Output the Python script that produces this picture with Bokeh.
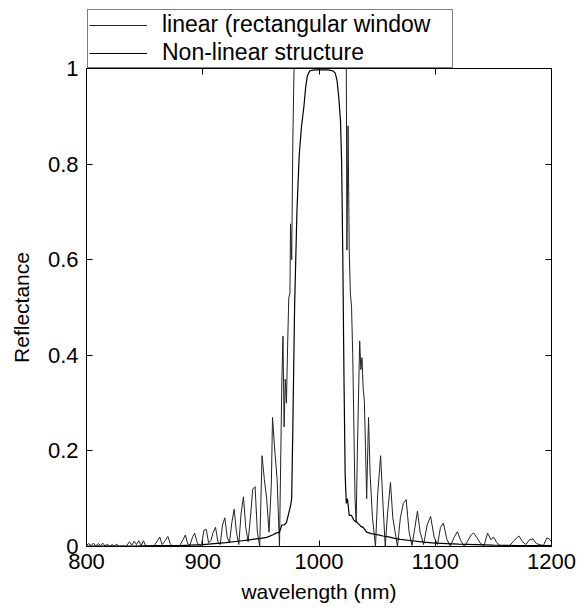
from bokeh.plotting import figure
from bokeh.layouts import column
from bokeh.models import Range1d, LinearAxis, FixedTicker, Legend, LegendItem, ColumnDataSource
from bokeh.embed import file_html
from bokeh.resources import INLINE

# ---- data ----
lin_wl = [800, 802, 804, 806, 808, 810, 812, 814, 816, 818, 820, 822, 824, 826, 828, 831, 834,
          837, 839, 841, 843, 845, 847, 849, 851, 854, 858, 861, 863, 865, 867, 870, 872, 874,
          877, 880, 883, 885, 887, 889, 891, 893, 895, 897, 899, 901, 903, 905, 907, 909, 911,
          913, 915, 917, 919, 921, 923, 925, 927, 929, 931, 933, 935, 937, 939, 941, 943, 945,
          947, 949, 951, 953, 955, 957, 959, 960, 962, 964, 966, 968, 969, 970, 971, 972, 973,
          974, 975, 975.5, 976.5, 977.5, 978.5, 980, 985, 990, 995, 1000, 1005, 1010, 1015,
          1020, 1023.5, 1024, 1025, 1026, 1027, 1028, 1029, 1030, 1031, 1032, 1033, 1035, 1036,
          1037, 1038, 1039, 1040, 1041, 1042.6, 1044, 1046, 1048.6, 1050.5, 1053, 1055, 1057,
          1059, 1061.5, 1063.5, 1065.5, 1067.5, 1070, 1072.5, 1075, 1077.5, 1080, 1082.5,
          1084.7, 1087, 1090, 1093, 1096, 1099, 1102, 1104.5, 1107, 1110, 1113, 1116, 1119,
          1122, 1125, 1128, 1131, 1133, 1136, 1139, 1142, 1145, 1148, 1150, 1153, 1156, 1160,
          1164, 1167, 1170, 1172, 1175, 1178, 1181, 1184, 1187, 1190, 1193, 1196, 1198, 1200]
lin_r = [0.003, 0.006, 0.002, 0.007, 0.001, 0.006, 0.002, 0.007, 0.001, 0.005, 0.000, 0.004,
         0.001, 0.005, 0.000, 0.001, 0.000, 0.010, 0.003, 0.011, 0.004, 0.012, 0.002, 0.012,
         0.001, 0.000, 0.001, 0.012, 0.020, 0.004, 0.010, 0.021, 0.006, 0.000, 0.002, 0.001,
         0.014, 0.024, 0.006, 0.003, 0.018, 0.028, 0.010, 0.000, 0.004, 0.034, 0.036, 0.008,
         0.012, 0.030, 0.040, 0.010, 0.004, 0.045, 0.060, 0.020, 0.008, 0.050, 0.078, 0.030,
         0.004, 0.070, 0.104, 0.040, 0.010, 0.060, 0.120, 0.125, 0.030, 0.000, 0.190, 0.140,
         0.100, 0.030, 0.130, 0.270, 0.200, 0.140, 0.000, 0.340, 0.440, 0.250, 0.350, 0.300,
         0.420, 0.520, 0.530, 0.675, 0.600, 0.850, 1.000, 1.000, 1.000, 1.000, 1.000, 1.000,
         1.000, 1.000, 1.000, 1.000, 1.000, 0.620, 0.880, 0.620, 0.530, 0.500, 0.404, 0.250,
         0.100, 0.050, 0.200, 0.430, 0.370, 0.395, 0.330, 0.305, 0.207, 0.100, 0.270, 0.150,
         0.060, 0.000, 0.110, 0.190, 0.090, 0.000, 0.070, 0.134, 0.060, 0.030, 0.000, 0.060,
         0.090, 0.098, 0.030, 0.002, 0.040, 0.074, 0.030, 0.004, 0.045, 0.063, 0.020, 0.004,
         0.040, 0.049, 0.015, 0.001, 0.018, 0.031, 0.012, 0.000, 0.012, 0.025, 0.028, 0.018,
         0.006, 0.002, 0.028, 0.014, 0.020, 0.008, 0.001, 0.000, 0.002, 0.010, 0.018, 0.022,
         0.010, 0.004, 0.014, 0.016, 0.006, 0.004, 0.002, 0.018, 0.016, 0.010]

nl_wl = [800, 820, 840, 860, 880, 900, 910, 920, 930, 940, 950, 955, 960, 963, 966, 968, 970,
         972, 974, 975.5, 976.5, 977.5, 979, 981, 983, 985, 987, 988.5, 990, 992, 996, 1000,
         1004, 1008, 1012, 1014, 1015.5, 1017, 1018.5, 1019.5, 1020.5, 1021.5, 1022.5, 1023.5,
         1024.5, 1026, 1028, 1030, 1033, 1036, 1038, 1041, 1045, 1050, 1055, 1060, 1065, 1070,
         1080, 1090, 1100, 1110, 1120, 1135, 1150, 1170, 1200]
nl_r = [0.001, 0.001, 0.001, 0.002, 0.002, 0.004, 0.006, 0.008, 0.011, 0.014, 0.017, 0.019,
        0.024, 0.028, 0.030, 0.045, 0.045, 0.050, 0.070, 0.085, 0.100, 0.250, 0.500, 0.700,
        0.820, 0.880, 0.920, 0.960, 0.985, 0.995, 0.997, 0.997, 0.997, 0.997, 0.995, 0.990,
        0.975, 0.940, 0.890, 0.800, 0.600, 0.350, 0.150, 0.090, 0.100, 0.065, 0.065, 0.055,
        0.050, 0.042, 0.040, 0.030, 0.027, 0.025, 0.022, 0.020, 0.017, 0.015, 0.012, 0.009,
        0.007, 0.006, 0.005, 0.004, 0.003, 0.002, 0.002]

x_ticks = [800, 900, 1000, 1100, 1200]
y_ticks = [0, 0.2, 0.4, 0.6, 0.8, 1]
y_tick_labels = ["0", "0.2", "0.4", "0.6", "0.8", "1"]
series_names = ["linear (rectangular window", "Non-linear structure"]

FONT = "Liberation Sans"

src_lin = ColumnDataSource(dict(x=lin_wl, y=lin_r))
src_nl = ColumnDataSource(dict(x=nl_wl, y=nl_r))

# ---------- main plot (overlaps the legend strip by 14px, transparent border) ----------
p = figure(width=585, height=558,
           x_range=Range1d(800, 1200), y_range=Range1d(0, 1),
           output_backend="svg", toolbar_location=None,
           min_border_left=86, min_border_right=34, min_border_top=14, min_border_bottom=66,
           background_fill_color="white", border_fill_alpha=0,
           margin=(-14, 0, 0, 0))
p.xgrid.visible = False
p.ygrid.visible = False
p.outline_line_color = "black"
p.outline_line_width = 1

p.line("x", "y", source=src_lin, line_color="#222222", line_width=1)
p.line("x", "y", source=src_nl, line_color="black", line_width=1.2)

for ax in [p.xaxis[0], p.yaxis[0]]:
    ax.axis_line_color = "black"
    ax.major_tick_line_color = "black"
    ax.major_tick_in = 6
    ax.major_tick_out = 0
    ax.minor_tick_line_color = None
    ax.major_label_text_font = FONT
    ax.major_label_text_color = "black"
    ax.major_label_text_font_size = "22px"
    ax.axis_label_text_font = FONT
    ax.axis_label_text_font_style = "normal"
    ax.axis_label_text_color = "black"
    ax.axis_label_text_font_size = "21px"

p.xaxis.ticker = FixedTicker(ticks=x_ticks)
p.yaxis.ticker = FixedTicker(ticks=y_ticks)
p.yaxis.major_label_overrides = dict(zip(y_ticks, y_tick_labels))
p.xaxis.axis_label = "wavelength (nm)"
p.yaxis.axis_label = "Reflectance"
p.xaxis.major_label_standoff = 7
p.yaxis.major_label_standoff = 8
p.xaxis.axis_label_standoff = 8
p.yaxis.axis_label_standoff = 12

for ticks, side in [(y_ticks, "right"), (x_ticks, "above")]:
    ax = LinearAxis(ticker=FixedTicker(ticks=ticks))
    ax.axis_line_color = "black"
    ax.major_tick_line_color = "black"
    ax.major_tick_in = 6
    ax.major_tick_out = 0
    ax.minor_tick_line_color = None
    ax.major_label_overrides = {t: "" for t in ticks}
    ax.major_label_text_font_size = "1px"
    ax.major_label_standoff = 0
    p.add_layout(ax, side)

# ---------- legend strip above the axes ----------
lg = figure(width=585, height=68, x_range=Range1d(0, 1), y_range=Range1d(0, 1),
            output_backend="svg", toolbar_location=None,
            min_border_left=0, min_border_right=0, min_border_top=0, min_border_bottom=0,
            background_fill_color="white", border_fill_color="white")
lg.axis.visible = False
lg.xgrid.visible = False
lg.ygrid.visible = False
lg.outline_line_color = None
g_lin = lg.line("x", "y", source=src_lin, line_color="#222222", line_width=1)
g_nl = lg.line("x", "y", source=src_nl, line_color="black", line_width=1.2)

legend = Legend(items=[LegendItem(label=series_names[0], renderers=[g_lin]),
                       LegendItem(label=series_names[1], renderers=[g_nl])],
                location=(1, 0), margin=0, padding=1, spacing=1,
                glyph_width=58, glyph_height=20, label_height=20, label_standoff=15,
                label_width=289,
                label_text_font=FONT, label_text_font_size="23px", label_text_color="black",
                border_line_color="black", border_line_width=1,
                background_fill_color="white", background_fill_alpha=1)
lg.add_layout(legend, "center")

layout = column(lg, p, spacing=0)
open("out.html", "w").write(file_html(layout, INLINE))
